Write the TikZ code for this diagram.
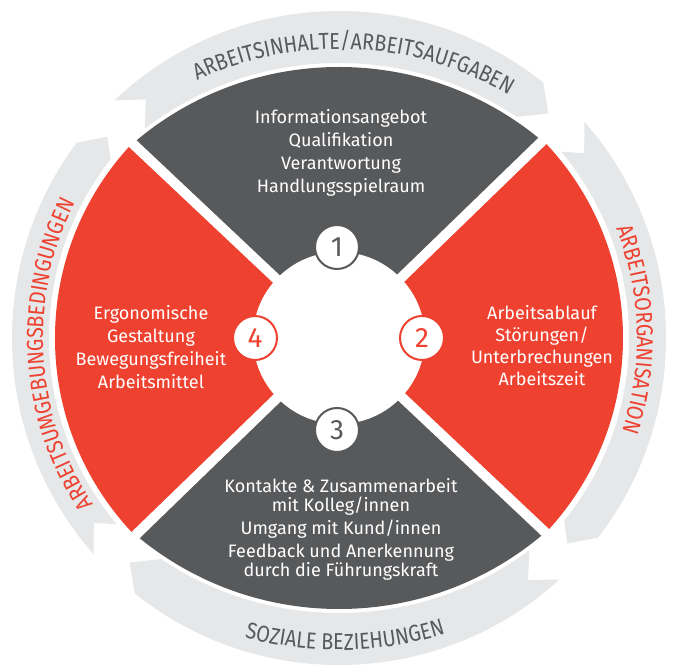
\documentclass[tikz,border=0pt]{standalone}
\usepackage{fontspec}
\setmainfont{Fira Sans}
\newfontfamily\ringfont{Fira Sans}[FakeStretch=0.86]
\usepackage{tikz}
\usetikzlibrary{decorations.text}
\definecolor{zesty red}{HTML}{EE4130}
\definecolor{slate gray}{HTML}{58595B}
\definecolor{ring gray}{HTML}{E6E7E8}

\begin{document}
\begin{tikzpicture}[x=1pt, y=1pt,
		badge/.style={circle, draw=#1, text=#1, fill=white, line width=2pt,
			minimum size=44pt, inner sep=0pt, font=\fontsize{28}{28}\selectfont},
		field/.style={text=white, align=center, font=\fontsize{18}{23}\selectfont},
		ringtext/.style={decorate, decoration={text along path, text align=center}}]
		\useasboundingbox (-339,-333) rectangle (339,338);
		% ring, top
		\begin{scope}
			\clip (136.6:345) -- (129:307) -- (137.4:265) -- (0,0) -- (55.4:265)
				-- (47:307) -- (54.6:345) arc[start angle=54.6, end angle=136.6, radius=345] -- cycle;
			\fill[ring gray, even odd rule] (0,0) circle (327) (0,-45) circle (320);
		\end{scope}
		% ring, right
		\begin{scope}
			\clip (44.6:345) -- (37:307) -- (45.4:265) -- (0,0) -- (-33.6:265)
				-- (-42:307) -- (-34.4:345) arc[start angle=-34.4, end angle=44.6, radius=345] -- cycle;
			\fill[ring gray, even odd rule] (0,0) circle (327) (0,0) circle (290);
		\end{scope}
		% ring, bottom
		\begin{scope}
			\clip (-44.4:345) -- (-52:307) -- (-43.6:265) -- (0,0) -- (-124.6:265)
				-- (-133:307) -- (-125.4:345) arc[start angle=-125.4, end angle=-44.4, radius=345] -- cycle;
			\fill[ring gray, even odd rule] (0,0) circle (327) (0,45) circle (320);
		\end{scope}
		% ring, left
		\begin{scope}
			\clip (224.6:345) -- (217:307) -- (225.4:265) -- (0,0) -- (147.4:265)
				-- (139:307) -- (146.6:345) arc[start angle=146.6, end angle=224.6, radius=345] -- cycle;
			\fill[ring gray, even odd rule] (0,0) circle (327) (0,0) circle (290);
		\end{scope}
		% red sides
		\begin{scope}
			\clip (0,0) -- (136.7:600) -- (224.1:600) -- cycle
				(0,0) -- (-43.3:600) -- (44.1:600) -- cycle;
			\fill[zesty red] (0,0) circle (284);
		\end{scope}
		% grey top and bottom
		\begin{scope}
			\clip (0,0) -- (44.1:600) -- (136.7:600) -- cycle;
			\fill[slate gray] (0,-45) circle (316);
		\end{scope}
		\begin{scope}
			\clip (0,0) -- (224.1:600) -- (316.7:600) -- cycle;
			\fill[slate gray] (0,45) circle (316);
		\end{scope}
		% gaps and hub
		\draw[white, line width=10pt]
			(44.1:287) -- (224.1:287)
			(136.7:287) -- (316.7:287);
		\fill[white] (0,0) circle (86);
		% ring labels
		\path[ringtext, decoration={text color=slate gray,
				text={|\ringfont\fontsize{23}{23}\selectfont|ARBEITSINHALTE/ARBEITSAUFGABEN}}]
			([shift={(0,-45)}]132.3:334) arc[start angle=132.3, end angle=42.3, radius=334];
		\path[ringtext, decoration={text color=zesty red,
				text={|\ringfont\fontsize{23}{23}\selectfont|ARBEITSORGANISATION}}]
			(31.7:298) arc[start angle=31.7, end angle=-28.3, radius=298];
		\path[ringtext, decoration={text color=slate gray,
				text={|\ringfont\fontsize{23}{23}\selectfont|SOZIALE BEZIEHUNGEN}}]
			([shift={(0,45)}]226:357) arc[start angle=226, end angle=316, radius=357];
		\path[ringtext, decoration={text color=zesty red,
				text={|\ringfont\fontsize{23}{23}\selectfont|ARBEITSUMGEBUNGSBEDINGUNGEN}}]
			(218:296) arc[start angle=218, end angle=149, radius=296];
		% field texts
		\node[field] (inhalt) at (2,185.5)
			{Informationsangebot\\Qualifikation\\Verantwortung\\Handlungsspielraum};
		\node[field, font=\fontsize{18}{19}\selectfont] (sozial) at (2,-191)
			{Kontakte \& Zusammenarbeit\\mit Kolleg/innen\\[4pt]Umgang mit Kund/innen\\[4pt]Feedback und Anerkennung\\durch die Führungskraft};
		\node[field] (umgebung) at (-188,-9.5)
			{Ergonomische\\Gestaltung\\Bewegungsfreiheit\\Arbeitsmittel};
		\node[field, font=\fontsize{18}{22}\selectfont] (orga) at (203,-8)
			{Arbeitsablauf\\Störungen/\\Unterbrechungen\\Arbeitszeit};
		% numbers
		\node[badge=slate gray] (b1) at (-2,91) {1};
		\node[badge=zesty red] (b2) at (83,0) {2};
		\node[badge=slate gray] (b3) at (-2,-92) {3};
		\node[badge=zesty red] (b4) at (-84,0) {4};
	\end{tikzpicture}
\end{document}
